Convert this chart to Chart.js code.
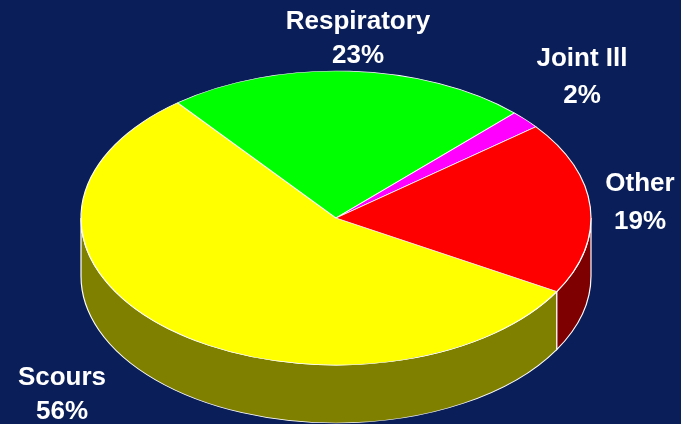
<!DOCTYPE html>
<html>
<head>
<meta charset="utf-8">
<script src="https://cdn.jsdelivr.net/npm/chart.js@4.4.0/dist/chart.umd.min.js"></script>
<style>
  html, body { margin: 0; padding: 0; background: #0A1E5A; }
  #wrap { width: 681px; height: 424px; }
</style>
</head>
<body>
<div id="wrap"><canvas id="pie" width="681" height="424"></canvas></div>
<script>
// du lieu bieu do
const categories = ['Scours', 'Respiratory', 'Joint Ill', 'Other'];
const shares = [56, 23, 2, 19];
const sliceColors = ['#FFFF00', '#00FF00', '#FF00FF', '#FF0000'];

// vi tri nhan (tam chu, duong co so dong 1 va dong 2)
const labelSpots = [
  { x: 62, y1: 385, y2: 419 },
  { x: 358, y1: 29, y2: 63 },
  { x: 582, y1: 66, y2: 103 },
  { x: 640, y1: 191, y2: 229 }
];

// lam toi mau cho thanh ben
function darken(hex) {
  const n = parseInt(hex.slice(1), 16);
  const r = (n >> 16) >> 1, g = ((n >> 8) & 255) >> 1, b = (n & 255) >> 1;
  return `rgb(${r},${g},${b})`;
}

// gia lap pie 3D: nen ellipse + thanh ben
const tilt = { cx: 336, cy: 218, rx: 255, ry: 147, depth: 58 };

const tiltPlugin = {
  id: 'tilt3d',
  beforeDatasetsDraw(chart) {
    const ctx = chart.ctx;
    const arcs = chart.getDatasetMeta(0).data;
    if (!arcs.length) return;
    const a0 = arcs[0];
    const R = a0.outerRadius;
    const sx = tilt.rx / R, sy = tilt.ry / R;
    ctx.save();
    ctx.translate(tilt.cx, tilt.cy);
    ctx.scale(sx, sy);
    ctx.translate(-a0.x, -a0.y);
    const d = tilt.depth / sy;

    // thanh ben (chi nua truoc, goc 0..PI)
    arcs.forEach((arc, i) => {
      const s = arc.startAngle, e = arc.endAngle;
      [-2 * Math.PI, 0, 2 * Math.PI, -4 * Math.PI].forEach(shift => {
        const a1 = Math.max(s + shift, 0);
        const a2 = Math.min(e + shift, Math.PI);
        if (a2 <= a1) return;
        ctx.beginPath();
        ctx.arc(arc.x, arc.y, R, a1, a2);
        ctx.arc(arc.x, arc.y + d, R, a2, a1, true);
        ctx.closePath();
        ctx.fillStyle = darken(sliceColors[i]);
        ctx.fill();
        ctx.lineWidth = 1;
        ctx.strokeStyle = '#FFFFFF';
        ctx.stroke();
      });
    });
  },
  afterDatasetsDraw(chart) {
    chart.ctx.restore();
  },
  afterDraw(chart) {
    const ctx = chart.ctx;
    ctx.save();
    ctx.fillStyle = '#FFFFFF';
    ctx.font = 'bold 26px "Liberation Sans", Arial, sans-serif';
    ctx.textAlign = 'center';
    ctx.textBaseline = 'alphabetic';
    categories.forEach((c, i) => {
      const p = labelSpots[i];
      ctx.fillText(c, p.x, p.y1);
      ctx.fillText(shares[i] + '%', p.x, p.y2);
    });
    ctx.restore();
  }
};

new Chart(document.getElementById('pie').getContext('2d'), {
  type: 'pie',
  data: {
    labels: categories,
    datasets: [{
      data: shares,
      backgroundColor: sliceColors,
      borderColor: '#FFFFFF',
      borderWidth: 1,
      clip: false
    }]
  },
  options: {
    responsive: false,
    animation: false,
    rotation: 120,
    layout: { padding: 0 },
    plugins: {
      legend: { display: false },
      tooltip: { enabled: false }
    }
  },
  plugins: [tiltPlugin]
});
</script>
</body>
</html>
